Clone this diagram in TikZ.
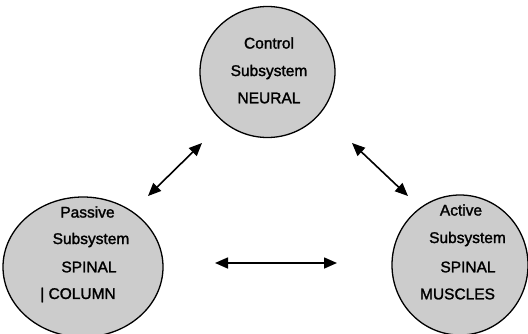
\documentclass[tikz,border=0pt]{standalone}
\usepackage{fontspec}
\setmainfont{Liberation Sans}[FakeBold=1.6]
\usetikzlibrary{shapes.geometric,arrows.meta}
\begin{document}
\begin{tikzpicture}[x=1pt,y=-1pt,
  sys/.style={ellipse,draw=black,line width=1.3pt,fill=black!20,inner sep=0pt},
  lbl/.style={inner sep=0pt,font=\fontsize{15.5}{18}\selectfont,text=black},
  link/.style={line width=1.6pt,{Triangle[length=13pt,width=11pt]}-{Triangle[length=13pt,width=11pt]}}]
\useasboundingbox (0,0) rectangle (528,333);
\clip (0,0) rectangle (528,333);
% circles
\node[sys,minimum width=135pt,minimum height=131pt] (ctrl) at (267.5,72) {};
\node[sys,minimum width=160pt,minimum height=140pt] (pass) at (83,267) {};
\node[sys,minimum width=136pt,minimum height=140pt] (act) at (460,265) {};
% texts
\node[lbl] (c1) at (269,43) {Control};
\node[lbl] (c2) at (269,72) {Subsystem};
\node[lbl] (c3) at (269,98) {NEURAL};
\node[lbl] (p1) at (87.5,212) {Passive};
\node[lbl] (p2) at (91,240) {Subsystem};
\node[lbl] (p3) at (89,267) {SPINAL};
\node[lbl] (p4) at (78,295) {| COLUMN};
\node[lbl] (a1) at (461,210) {Active};
\node[lbl] (a2) at (467.5,239) {Subsystem};
\node[lbl] (a3) at (468,267) {SPINAL};
\node[lbl] (a4) at (457.5,294) {MUSCLES};
% arrow ends
\coordinate (l1) at (148,196);
\coordinate (l2) at (202,143);
\coordinate (r1) at (352,143);
\coordinate (r2) at (408,196);
\coordinate (h1) at (215,263);
\coordinate (h2) at (337,263);
\draw[link] (l1) -- (l2);
\draw[link] (r1) -- (r2);
\draw[link] (h1) -- (h2);
\end{tikzpicture}
\end{document}
